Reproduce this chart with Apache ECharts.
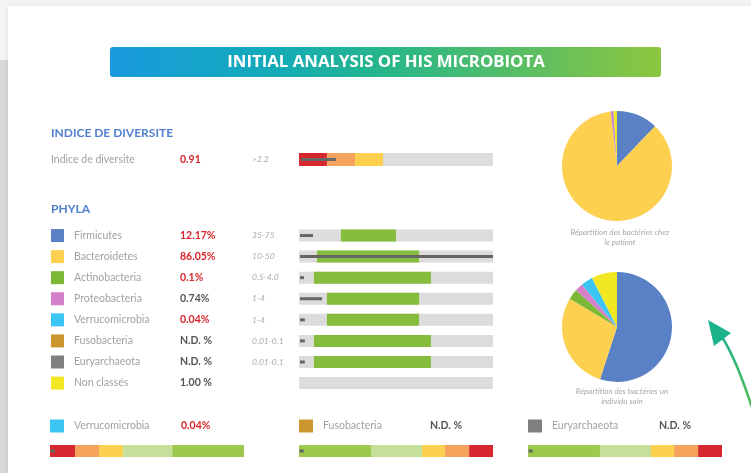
<!DOCTYPE html>
<html><head><meta charset="utf-8">
<script src="https://cdn.jsdelivr.net/npm/echarts@6/dist/echarts.min.js"></script>
<style>html,body{margin:0;padding:0;background:#fff}#c{width:751px;height:473px}</style>
</head><body><div id="c"></div>
<script>
// ---------- data ----------
const phyla = ['Firmicutes','Bacteroidetes','Actinobacteria','Proteobacteria','Verrucomicrobia','Fusobacteria','Euryarchaeota','Non classés'];
const phylaColors = ['#5a80c5','#fdd04f','#7ab836','#d480cb','#3ac5f2','#c9972e','#808080','#f1e723'];
const patientText = ['12.17%','86.05%','0.1%','0.74%','0.04%','N.D. %','N.D. %','1.00 %'];
const patientAlert = [true,true,true,false,true,false,false,false];
const normalRanges = ['35-75','10-50','0.5-4.0','1-4','1-4','0.01-0.1','0.01-0.1',''];
const greenStart = [21.6, 9.3, 7.7, 14.4, 14.4, 7.7, 7.7, null];
const greenEnd   = [50.0, 61.9, 68.0, 61.9, 61.9, 68.0, 68.0, null];
const markerEnd  = [7.2, 100, 2.6, 11.9, 3.0, 3.0, 3.0, null];
const patientPie = [12.17, 86.05, 0.1, 0.74, 0.04, 0, 0, 1.0];
const healthyPie = [55, 28.6, 3.0, 2.4, 3.5, 0, 0, 7.5];

const diversityLabel = 'Indice de diversite';
const diversityValue = '0.91';
const diversityRange = '>2.2';
const diversitySegments = [14.4, 14.5, 14.4, 56.7];
const diversityMarker = 19;

const bottomNames  = ['Verrucomicrobia','Fusobacteria','Euryarchaeota'];
const bottomText   = ['0.04%','N.D. %','N.D. %'];
const bottomAlert  = [true,false,false];
const bottomColors = ['#3ac5f2','#c9972e','#808080'];
const bottomSegments = [[12.9,12.4,12.4,25.3,37.0],[37.1,26.3,11.9,12.4,12.3],[37.1,26.3,11.9,12.4,12.3]];
const bottomMarker = [2.2, 2.2, 2.2];

// ---------- styles ----------
const F = 'Lato, "Open Sans", sans-serif';
const C = {red:'#d7272e', orange:'#f4a25c', yellow:'#fdd04f', bg:'#dcdcdc', green:'#86bc3c', lightGreen:'#c6e09c', green2:'#9dc94d', marker:'#666'};
const divColors = [C.red, C.orange, C.yellow, C.bg];
const bottomSegColors = [[C.red,C.orange,C.yellow,C.lightGreen,C.green2],[C.green2,C.lightGreen,C.yellow,C.orange,C.red],[C.green2,C.lightGreen,C.yellow,C.orange,C.red]];

const rich = {
  gap:{width:10},
  name:{width:106, color:'#a2a2a2', fontSize:10.5, fontFamily:F},
  valR:{width:72, color:'#d9262c', fontSize:10.5, fontWeight:'bold', fontFamily:F},
  valD:{width:72, color:'#555', fontSize:10.5, fontWeight:'bold', fontFamily:F},
  rng:{color:'#aaa', fontSize:8.5, fontStyle:'italic', fontFamily:F},
  lab:{width:129, color:'#a2a2a2', fontSize:10.5, fontFamily:F}
};
phylaColors.forEach((c,i)=>{ rich['sq'+i] = {width:13,height:13,backgroundColor:c}; });
bottomColors.forEach((c,i)=>{ rich['bq'+i] = {width:14,height:13,backgroundColor:c}; });
const richB = Object.assign({}, rich, {name:{width:107, color:'#a2a2a2', fontSize:10.5, fontFamily:F}});

const grids=[], xAxes=[], yAxes=[], series=[];
function addGrid(left, top, width, height, cats, inverse, label){
  grids.push({left, top, width, height, containLabel:false});
  const gi = grids.length-1;
  xAxes.push({type:'value', gridIndex:gi, min:0, max:100, show:false});
  yAxes.push({type:'category', gridIndex:gi, data:cats, inverse:!!inverse,
    axisLine:{show:false}, axisTick:{show:false}, splitLine:{show:false},
    axisLabel: label ? Object.assign({show:true, interval:0}, label) : {show:false}});
  return gi;
}
function bar(gi, data, color, stack, w, extra){
  series.push(Object.assign({type:'bar', xAxisIndex:gi, yAxisIndex:gi, data, stack, barWidth:w, barGap:'-100%', silent:true,
    itemStyle:{color}}, extra||{}));
}

// diversity
let g = addGrid(299, 153, 194, 13, [diversityLabel], false, {align:'left', margin:248, rich,
  formatter: v => `{lab|${v}}{valR|${diversityValue}}{rng|${diversityRange}}`});
diversitySegments.forEach((s,i)=>bar(g,[s],divColors[i],'d',13));
g = addGrid(299, 153, 194, 13, [diversityLabel], false, null);
bar(g,[1],'transparent','dm',3); bar(g,[diversityMarker-1],C.marker,'dm',3);

// phyla
g = addGrid(299, 225, 194, 168.6, phyla, true, {align:'left', margin:248, rich,
  formatter:(v,i)=>`{sq${i}| }{gap| }{name|${v}}{${patientAlert[i]?'valR':'valD'}|${patientText[i]}}{rng|${normalRanges[i]}}`});
bar(g, phyla.map(()=>100), C.bg, null, 12, {z:1});
bar(g, greenStart, 'transparent', 'g', 12, {z:2});
bar(g, greenStart.map((s,i)=>s==null?null:greenEnd[i]-s), C.green, 'g', 12, {z:2});
g = addGrid(299, 225, 194, 168.6, phyla, true, null);
bar(g, markerEnd.map(v=>v==null?null:0.5), 'transparent', 'm', 3, {z:3});
bar(g, markerEnd.map(v=>v==null?null:v-0.5), C.marker, 'm', 3, {z:3});

// bottom three
const bottomLeft = [50, 299, 528];
bottomNames.forEach((n,k)=>{
  let gb = addGrid(bottomLeft[k], 413.5, 194, 50, ['bar', n], false, {align:'left', margin:0, rich:richB,
    formatter:(v,i)=> i===1 ? `{bq${k}| }{gap| }{name|${v}}{${bottomAlert[k]?'valR':'valD'}|${bottomText[k]}}` : ''});
  bottomSegments[k].forEach((s,i)=>bar(gb,[s,null],bottomSegColors[k][i],'b'+k,12));
  gb = addGrid(bottomLeft[k], 413.5, 194, 50, ['bar', n], false, null);
  bar(gb,[0.3,null],'transparent','bm'+k,3,{z:3});
  bar(gb,[bottomMarker[k],null],C.marker,'bm'+k,3,{z:3});
});

// pies
function pie(center, vals){
  series.push({type:'pie', center, radius:55, startAngle:90, clockwise:true, silent:true,
    label:{show:false}, labelLine:{show:false}, avoidLabelOverlap:false,
    itemStyle:{borderWidth:0},
    data: vals.map((v,i)=>({name:phyla[i], value:v, itemStyle:{color:phylaColors[i]}}))});
}
pie([617,166], patientPie);
pie([617,327], healthyPie);

const captionStyle = {fill:'#a8a8a8', font:'italic 8px '+F, textAlign:'center', textVerticalAlign:'middle'};
const graphic = [
  {type:'rect', z:-10, shape:{x:0,y:0,width:751,height:473}, style:{fill:'#f4f4f4'}},
  {type:'rect', z:-10, shape:{x:0,y:60,width:8,height:413}, style:{fill:'#d9d9d9'}},
  {type:'rect', z:-9, shape:{x:8,y:6,width:760,height:480}, style:{fill:'#fff', shadowBlur:6, shadowColor:'rgba(0,0,0,0.08)'}},
  {type:'rect', z:-8, shape:{x:110,y:47,width:551,height:30,r:3},
    style:{fill:new echarts.graphic.LinearGradient(0,0,1,0,[{offset:0,color:'#199ade'},{offset:0.3,color:'#13abb8'},{offset:0.5,color:'#27b689'},{offset:1,color:'#8dc63e'}])}},
  {type:'text', z:-7, x:386, y:62, style:{text:'INITIAL ANALYSIS OF HIS MICROBIOTA', fill:'#fff', font:'bold 16.8px "Open Sans", sans-serif', textAlign:'center', textVerticalAlign:'middle'}},
  {type:'text', x:51, y:133, style:{text:'INDICE DE DIVERSITE', fill:'#4f7fcc', font:'bold 12px '+F, textVerticalAlign:'middle'}},
  {type:'text', x:51, y:209, style:{text:'PHYLA', fill:'#4f7fcc', font:'bold 12px '+F, textVerticalAlign:'middle'}},
  {type:'text', x:620, y:232, style:Object.assign({text:'Répartition des bactéries chez'},captionStyle)},
  {type:'text', x:620, y:242, style:Object.assign({text:'le patient'},captionStyle)},
  {type:'text', x:622, y:391, style:Object.assign({text:'Répartition des bactéries un'},captionStyle)},
  {type:'text', x:622, y:401, style:Object.assign({text:'individu sain'},captionStyle)},
  {type:'bezierCurve', shape:{x1:722,y1:337,x2:756,y2:420,cpx1:738,cpy1:362}, style:{fill:null, lineWidth:2.5,
    stroke:new echarts.graphic.LinearGradient(0,0,0,1,[{offset:0,color:'#1fb38a'},{offset:1,color:'#5cbf46'}])}},
  {type:'polygon', shape:{points:[[708,320],[731,333],[714,346]]}, style:{fill:'#1cb38b'}}
];

const chart = echarts.init(document.getElementById('c'), null, {renderer:'canvas'});
chart.setOption({backgroundColor:'#f4f4f4', animation:false, grid:grids, xAxis:xAxes, yAxis:yAxes, series, graphic});
</script></body></html>
